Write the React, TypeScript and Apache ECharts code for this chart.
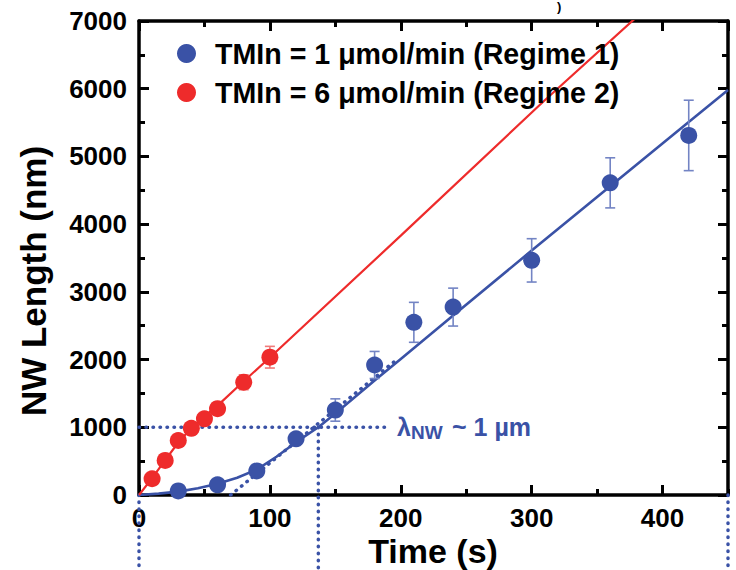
import React, { useEffect, useRef } from "react";
import * as echarts from "echarts";

const FONT = "'Liberation Sans', Arial, Helvetica, sans-serif";
const BLUE = "#3a52a6";
const BLUE_ERR = "#7384c4";
const RED = "#ee2b2b";
const RED_ERR = "#f07a7a";

// Axis ticks
const xMin = 0;
const xMax = 450;
const xMajor = 100;
const xMinor = 50;
const yMin = 0;
const yMax = 7000;
const yMajor = 1000;

// Regime 1 (TMIn = 1 umol/min)
const blueName = "TMIn = 1 μmol/min (Regime 1)";
const blueTime = [30, 60, 90, 120, 150, 180, 210, 240, 300, 360, 420];
const blueLength = [60, 150, 355, 830, 1255, 1920, 2550, 2775, 3465, 4610, 5310];
const blueErr = [0, 0, 0, 0, 165, 200, 295, 280, 320, 370, 520];

// Regime 2 (TMIn = 6 umol/min)
const redName = "TMIn = 6 μmol/min (Regime 2)";
const redTime = [10, 20, 30, 40, 50, 60, 80, 100];
const redLength = [240, 510, 805, 985, 1125, 1275, 1665, 2035];
const redErr = [0, 0, 0, 0, 0, 0, 110, 160];

// Fit curves
const blueFitTime = [0, 15, 30, 45, 60, 75, 90, 105, 120, 137, 150, 180, 200, 240, 300, 360, 420, 450];
const blueFitLength = [0, 20, 50, 100, 165, 255, 375, 565, 780, 1000, 1205, 1690, 2010, 2650, 3610, 4560, 5510, 5980];
const redFitTime = [0, 10, 20, 30, 40, 50, 60, 80, 100, 200, 310, 390];
const redFitLength = [0, 250, 515, 775, 990, 1160, 1320, 1680, 2030, 3830, 5830, 7230];

// Dotted guides
const tangentTime = [70, 195];
const tangentLength = [0, 1970];
const lambdaTime = 137;
const lambdaLength = 1000;
const guideEndTime = 192;
const dropEnd = -1150;

const pairs = (xs: number[], ys: number[]) => xs.map((x, i) => [x, ys[i]]);

const dotted = {
  color: BLUE,
  width: 3.5,
  type: [0.5, 6.5] as any,
  cap: "round" as const,
};

function guide(data: number[][]) {
  return {
    type: "line",
    data,
    showSymbol: false,
    symbol: "none",
    clip: false,
    silent: true,
    lineStyle: dotted,
    z: 1,
  };
}

function errorSeries(times: number[], vals: number[], errs: number[], color: string) {
  const data = times
    .map((t, i) => [t, vals[i] - errs[i], vals[i] + errs[i], errs[i]])
    .filter((d) => d[3] > 0);
  return {
    type: "custom",
    data,
    silent: true,
    z: 3,
    encode: { x: 0, y: [1, 2] },
    renderItem: (_p: any, api: any) => {
      const x = api.value(0);
      const lo = api.coord([x, api.value(1)]);
      const hi = api.coord([x, api.value(2)]);
      const hw = 5;
      const st = { stroke: color, lineWidth: 1.6 };
      return {
        type: "group",
        children: [
          { type: "line", shape: { x1: lo[0], y1: lo[1], x2: hi[0], y2: hi[1] }, style: st },
          { type: "line", shape: { x1: lo[0] - hw, y1: lo[1], x2: lo[0] + hw, y2: lo[1] }, style: st },
          { type: "line", shape: { x1: hi[0] - hw, y1: hi[1], x2: hi[0] + hw, y2: hi[1] }, style: st },
        ],
      };
    },
  };
}

const tickLine = { color: "#000", width: 3 };

function xAxisDef(position: "top" | "bottom", major: boolean) {
  return {
    type: "value",
    position,
    min: xMin,
    max: xMax,
    interval: major ? xMajor : xMinor,
    axisLine: major
      ? { show: true, onZero: false, lineStyle: { color: "#000", width: 3.5 } }
      : { show: false, onZero: false },
    axisTick: { show: true, inside: true, length: major ? 10 : 6, lineStyle: tickLine },
    axisLabel:
      major && position === "bottom"
        ? {
            show: true,
            color: "#000",
            fontFamily: FONT,
            fontWeight: "bold",
            fontSize: 26,
            margin: 10,
            showMaxLabel: false,
            formatter: (v: number) => String(v),
          }
        : { show: false },
    splitLine: { show: false },
  };
}

function yAxisDef(position: "left" | "right") {
  return {
    type: "value",
    position,
    min: yMin,
    max: yMax,
    interval: yMajor,
    axisLine: { show: true, onZero: false, lineStyle: { color: "#000", width: 3.5 } },
    axisTick: { show: true, inside: true, length: 10, lineStyle: tickLine },
    minorTick: { show: true, splitNumber: 2, length: 6, lineStyle: tickLine },
    axisLabel:
      position === "left"
        ? {
            show: true,
            color: "#000",
            fontFamily: FONT,
            fontWeight: "bold",
            fontSize: 26,
            margin: 12,
            formatter: (v: number) => String(v),
          }
        : { show: false },
    splitLine: { show: false },
    minorSplitLine: { show: false },
  };
}

export default function App() {
  const ref = useRef<HTMLDivElement>(null);

  useEffect(() => {
    if (!ref.current) return;
    const chart = echarts.init(ref.current, undefined, { renderer: "svg" });
    const option: any = {
      animation: false,
      backgroundColor: "#fff",
      grid: { left: 139, right: 8, top: 21, bottom: 75, containLabel: false },
      xAxis: [
        xAxisDef("bottom", true),
        xAxisDef("bottom", false),
        xAxisDef("top", true),
        xAxisDef("top", false),
      ],
      yAxis: [yAxisDef("left"), yAxisDef("right")],
      legend: {
        data: [blueName, redName],
        orient: "vertical",
        left: 172,
        top: 34,
        icon: "circle",
        itemWidth: 19,
        itemHeight: 19,
        itemGap: 10,
        selectedMode: false,
        textStyle: {
          color: "#000",
          fontFamily: FONT,
          fontWeight: "bold",
          fontSize: 28.6,
          padding: [0, 0, 0, 14],
        },
      },
      series: [
        guide(pairs([0, guideEndTime], [lambdaLength, lambdaLength])),
        guide(pairs([lambdaTime, lambdaTime], [lambdaLength, dropEnd])),
        guide(pairs([xMin, xMin], [0, dropEnd])),
        guide(pairs([xMax, xMax], [0, dropEnd])),
        guide(pairs(tangentTime, tangentLength)),
        {
          type: "line",
          name: "blueFit",
          data: pairs(blueFitTime, blueFitLength),
          showSymbol: false,
          symbol: "none",
          smooth: false,
          lineStyle: { color: BLUE, width: 2.6 },
          silent: true,
          z: 2,
        },
        {
          type: "line",
          name: "redFit",
          data: pairs(redFitTime, redFitLength),
          showSymbol: false,
          symbol: "none",
          smooth: false,
          lineStyle: { color: RED, width: 2.2 },
          silent: true,
          z: 2,
        },
        errorSeries(blueTime, blueLength, blueErr, BLUE_ERR),
        errorSeries(redTime, redLength, redErr, RED_ERR),
        {
          type: "scatter",
          name: blueName,
          data: pairs(blueTime, blueLength),
          symbol: "circle",
          symbolSize: 17,
          itemStyle: { color: BLUE, opacity: 1 },
          z: 4,
        },
        {
          type: "scatter",
          name: redName,
          data: pairs(redTime, redLength),
          symbol: "circle",
          symbolSize: 17,
          itemStyle: { color: RED, opacity: 1 },
          z: 4,
        },
      ],
      graphic: [
        {
          type: "text",
          x: 33,
          y: 281,
          rotation: Math.PI / 2,
          style: {
            text: "NW Length (nm)",
            fill: "#000",
            font: `bold 35px ${FONT}`,
            align: "center",
            verticalAlign: "middle",
            textAlign: "center",
            textVerticalAlign: "middle",
          },
        },
        {
          type: "text",
          x: 433,
          y: 551,
          style: {
            text: "Time (s)",
            fill: "#000",
            font: `bold 34px ${FONT}`,
            align: "center",
            verticalAlign: "middle",
            textAlign: "center",
            textVerticalAlign: "middle",
          },
        },
        {
          type: "text",
          x: 397,
          y: 427,
          style: {
            text: "λ",
            fill: BLUE,
            font: `bold 25px ${FONT}`,
            align: "left",
            verticalAlign: "middle",
            textAlign: "left",
            textVerticalAlign: "middle",
          },
        },
        {
          type: "text",
          x: 411,
          y: 432,
          style: {
            text: "NW",
            fill: BLUE,
            font: `bold 19px ${FONT}`,
            align: "left",
            verticalAlign: "middle",
            textAlign: "left",
            textVerticalAlign: "middle",
          },
        },
        {
          type: "text",
          x: 452,
          y: 427,
          style: {
            text: "~ 1 µm",
            fill: BLUE,
            font: `bold 25px ${FONT}`,
            align: "left",
            verticalAlign: "middle",
            textAlign: "left",
            textVerticalAlign: "middle",
          },
        },
        {
          type: "text",
          x: 557,
          y: 0,
          style: {
            text: ")",
            fill: "#000",
            font: `bold 13px ${FONT}`,
            align: "left",
            verticalAlign: "top",
            textAlign: "left",
            textVerticalAlign: "top",
          },
        },
      ],
    };
    chart.setOption(option);
    return () => chart.dispose();
  }, []);

  return (
    <div
      ref={ref}
      style={{ position: "absolute", left: 0, top: 0, width: 736, height: 570, background: "#fff" }}
    />
  );
}
